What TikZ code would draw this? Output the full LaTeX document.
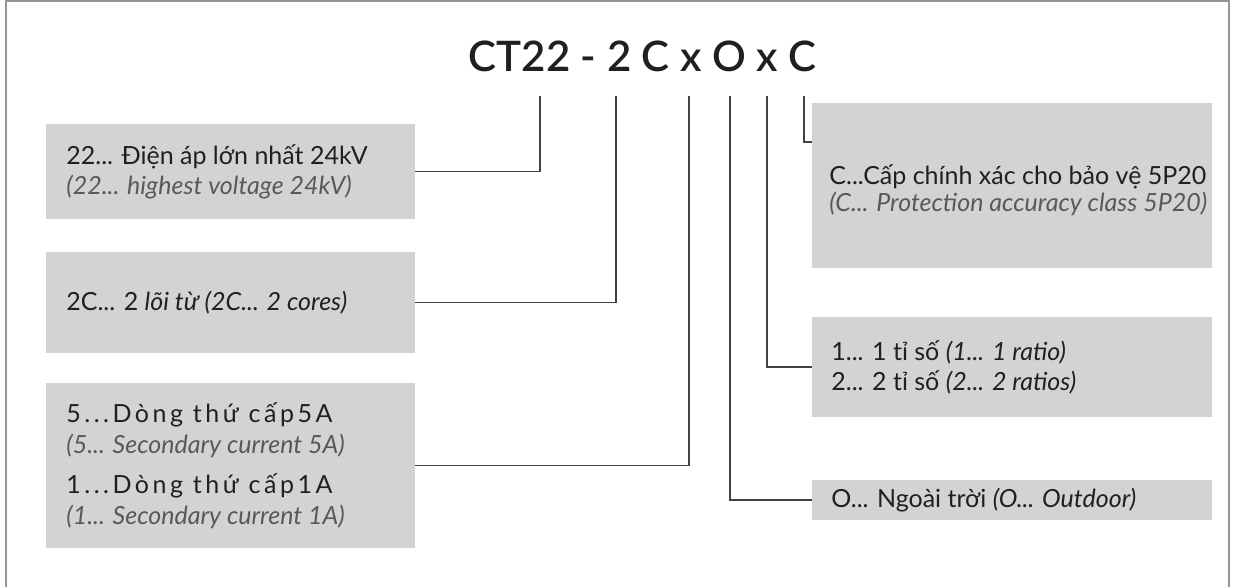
\documentclass[tikz,border=0pt]{standalone}
\usepackage{fontspec}
\setmainfont{Lato}
\newfontfamily\codefont{Lato Semibold}
\usetikzlibrary{positioning}

\definecolor{boxgray}{HTML}{D1D3D4}
\definecolor{inkblack}{HTML}{231F20}
\definecolor{inkgray}{HTML}{58595B}
\definecolor{wiregray}{HTML}{414042}
\definecolor{framegray}{HTML}{939598}

\newcommand{\engl}[1]{{\color{inkgray}\itshape #1}}
\newcommand{\wide}[1]{{\addfontfeature{LetterSpace=14}#1}}

\begin{document}
\begin{tikzpicture}[x=0.5pt,y=-0.5pt,
		box/.style={fill=boxgray, anchor=north west, inner sep=0pt, outer sep=0pt},
		lbl/.style={inner sep=0pt, align=left, text=inkblack, font=\fontsize{12.5}{15}\selectfont},
		wire/.style={draw=wiregray, line width=0.55pt}]

		\useasboundingbox (0,0) rectangle (1237,587);
		\draw[framegray, line width=1pt] (5.5,1.5) rectangle (1229,620);

		% code
		\draw (642.5,72) node [anchor=base, text=inkblack, font=\fontsize{21}{21}\codefont] (code) {CT22 - 2 C x O x C};
		\coordinate (t22) at (540,96);
		\coordinate (t2C) at (616,96);
		\coordinate (tA) at (689,96);
		\coordinate (tO) at (730,96);
		\coordinate (tR) at (767,96);
		\coordinate (tC) at (804,96);

		% left boxes
		\draw (46,124) node [box, minimum width=184.5pt, minimum height=47.5pt] (b22) {};
		\draw (46,252) node [box, minimum width=184.5pt, minimum height=50.5pt] (b2C) {};
		\draw (46,383) node [box, minimum width=184.5pt, minimum height=82.5pt] (bA) {};

		% right boxes
		\draw (812,103) node [box, minimum width=200pt, minimum height=82.5pt] (bC) {};
		\draw (812,317) node [box, minimum width=200pt, minimum height=50pt] (bR) {};
		\draw (812,480) node [box, minimum width=200pt, minimum height=20pt] (bO) {};

		\node [lbl, right=10pt of b22.west] (l22) {22... Điện áp lớn nhất 24kV\\ \engl{(22... highest voltage 24kV)}};
		\node [lbl, right=10pt of b2C.west] (l2C) {2C... 2 \textit{lõi từ (2C... 2 cores)}};
		\node [lbl, right=10pt of bA.west, font=\fontsize{12.5}{15.5}\selectfont] (lA) {\wide{5...Dòng thứ cấp5A}\\ \engl{(5... Secondary current 5A)}\\[4.5pt]
			\wide{1...Dòng thứ cấp1A}\\ \engl{(1... Secondary current 1A)}};
		\node [lbl, right=8.5pt of bC.west, yshift=-2.5pt, font=\fontsize{12.5}{13.5}\selectfont] (lC) {C...Cấp chính xác cho bảo vệ 5P20\\ \engl{(C... Protection accuracy class 5P20)}};
		\node [lbl, right=9.5pt of bR.west] (lR) {1... 1 tỉ số \textit{(1... 1 ratio)}\\ 2... 2 tỉ số \textit{(2... 2 ratios)}};
		\node [lbl, right=9.5pt of bO.west] (lO) {O... Ngoài trời \textit{(O... Outdoor)}};

		\draw[wire]
			(t22) |- (b22.east)
			(t2C) |- (b2C.east)
			(tA) |- (bA.east)
			(tO) |- (bO.west)
			(tR) |- (bR.west)
			(tC) |- ([yshift=-19.5pt]bC.north west)
		;
	\end{tikzpicture}
\end{document}
